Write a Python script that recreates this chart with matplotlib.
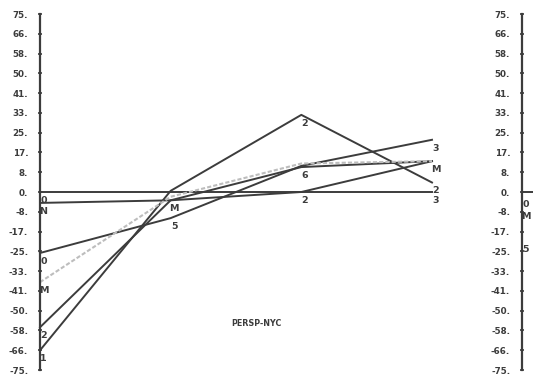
import numpy as np
from matplotlib import pyplot as plt

# positions along the horizontal axis
xpos = [0, 1, 2, 3]

# series values
s_zero = [0.0, 0.0, 0.0, 0.0]
s_flat = [-4.6, -3.5, 0.0, 13.0]
s_d = [-25.7, -11.0, 11.0, 22.0]
s_m = [-38.0, -2.0, 12.0, 13.0]
s_two = [-57.0, -3.5, 10.5, 13.0]
s_one = [-66.7, 0.5, 32.5, 4.0]

# point symbols written next to each value
lab_zero = ["0", "", "", "3"]
lab_flat = ["N", "", "2", ""]
lab_d = ["0", "5", "", "3"]
lab_m = ["M", "", "", ""]
lab_two = ["2", "M", "6", "M"]
lab_one = ["1", "", "2", "2"]

ytick_vals = np.linspace(-75, 75, 19)
ytick_labels = ["-75.", "-66.", "-58.", "-50.", "-41.", "-33.", "-25.", "-17.", "-8.",
                "0.", "8.", "17.", "25.", "33.", "41.", "50.", "58.", "66.", "75."]

title = "PERSP-NYC"

dark = "#3c3c3c"
fig = plt.figure(figsize=(5.33, 3.78), dpi=100)


def setup_axis(ax):
    ax.set_ylim(-75, 75)
    for s in ["top", "right", "bottom"]:
        ax.spines[s].set_visible(False)
    ax.spines["left"].set_color(dark)
    ax.spines["left"].set_linewidth(1.6)
    ax.set_xticks([])
    ax.set_yticks(ytick_vals)
    ax.set_yticklabels(ytick_labels, fontsize=6.3, fontweight="bold", color=dark)
    ax.tick_params(axis="y", direction="inout", length=3, width=1.2, color=dark, pad=7)


ax = fig.add_axes([40/533, 8/378, (432-40)/533, (364-8)/378])
setup_axis(ax)
ax.set_xlim(0, 3)

lines = [(s_zero, lab_zero), (s_flat, lab_flat), (s_d, lab_d),
         (s_two, lab_two), (s_one, lab_one)]
for vals, labs in lines:
    ax.plot(xpos, vals, color=dark, lw=1.4, clip_on=False)

# the light dotted series
ax.plot(xpos, s_m, color="#bdbdbd", lw=1.5, ls=(0, (2, 1)), clip_on=False)
lines.append((s_m, lab_m))

for vals, labs in lines:
    for x, v, t in zip(xpos, vals, labs):
        if t:
            ax.annotate(t, (x, v), xytext=(2.5, -6), textcoords="offset points",
                        ha="center", va="center", fontsize=6.8, fontweight="bold",
                        color=dark, annotation_clip=False)

ax.text(1.66, -55.3, title, fontsize=5.8, fontweight="bold", color=dark,
        ha="center", va="center")

# next panel, cut off at the right edge
ax2 = fig.add_axes([522/533, 8/378, 0.8, (364-8)/378])
setup_axis(ax2)
ax2.set_xlim(0, 3)
ax2.plot([0, 3], [0, 0], color=dark, lw=1.4)
for v, t in zip([-3.0, -8.0, -22.0], ["0", "M", "5"]):
    ax2.annotate(t, (0, v), xytext=(2.5, -4), textcoords="offset points",
                 ha="center", va="center", fontsize=6.8, fontweight="bold", color=dark)

fig.savefig("out.png", dpi=100)
